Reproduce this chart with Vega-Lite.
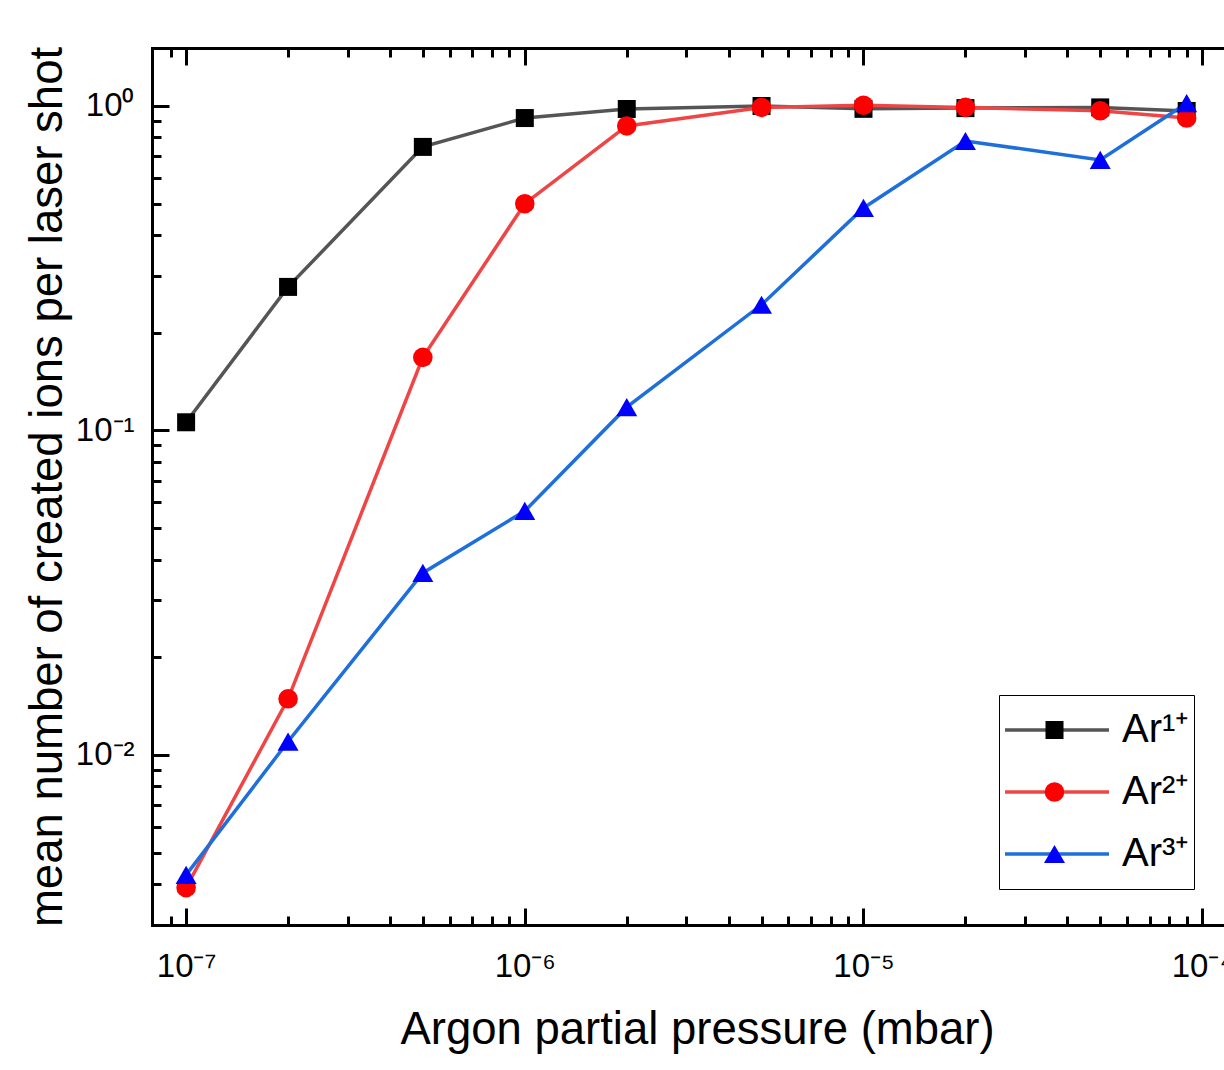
{
  "$schema": "https://vega.github.io/schema/vega-lite/v6.json",
  "autosize": {"type": "none"},
  "padding": {"left": 152, "top": 48, "right": 0, "bottom": 145},
  "width": 1072,
  "height": 877,
  "background": "white",
  "config": {
    "view": {"stroke": null},
    "font": "Liberation Sans",
    "axis": {"grid": false, "ticks": true, "tickWidth": 3, "tickColor": "black", "domainWidth": 3, "domainColor": "black", "domainCap": "square", "labelFlush": false, "labelOverlap": false}
  },
  "data": {"values": [
    {"series": "Ar1+", "ion": "Ar¹⁺", "pressure": 1e-7, "ions": 0.106},
    {"series": "Ar1+", "ion": "Ar¹⁺", "pressure": 2e-7, "ions": 0.277},
    {"series": "Ar1+", "ion": "Ar¹⁺", "pressure": 5e-7, "ions": 0.748},
    {"series": "Ar1+", "ion": "Ar¹⁺", "pressure": 1e-6, "ions": 0.918},
    {"series": "Ar1+", "ion": "Ar¹⁺", "pressure": 2e-6, "ions": 0.979},
    {"series": "Ar1+", "ion": "Ar¹⁺", "pressure": 5e-6, "ions": 1.0},
    {"series": "Ar1+", "ion": "Ar¹⁺", "pressure": 1e-5, "ions": 0.98},
    {"series": "Ar1+", "ion": "Ar¹⁺", "pressure": 2e-5, "ions": 0.985},
    {"series": "Ar1+", "ion": "Ar¹⁺", "pressure": 5e-5, "ions": 0.99},
    {"series": "Ar1+", "ion": "Ar¹⁺", "pressure": 9e-5, "ions": 0.965},
    {"series": "Ar2+", "ion": "Ar²⁺", "pressure": 1e-7, "ions": 0.0039},
    {"series": "Ar2+", "ion": "Ar²⁺", "pressure": 2e-7, "ions": 0.0149},
    {"series": "Ar2+", "ion": "Ar²⁺", "pressure": 5e-7, "ions": 0.168},
    {"series": "Ar2+", "ion": "Ar²⁺", "pressure": 1e-6, "ions": 0.50},
    {"series": "Ar2+", "ion": "Ar²⁺", "pressure": 2e-6, "ions": 0.868},
    {"series": "Ar2+", "ion": "Ar²⁺", "pressure": 5e-6, "ions": 0.99},
    {"series": "Ar2+", "ion": "Ar²⁺", "pressure": 1e-5, "ions": 1.005},
    {"series": "Ar2+", "ion": "Ar²⁺", "pressure": 2e-5, "ions": 0.99},
    {"series": "Ar2+", "ion": "Ar²⁺", "pressure": 5e-5, "ions": 0.967},
    {"series": "Ar2+", "ion": "Ar²⁺", "pressure": 9e-5, "ions": 0.918},
    {"series": "Ar3+", "ion": "Ar³⁺", "pressure": 1e-7, "ions": 0.00427},
    {"series": "Ar3+", "ion": "Ar³⁺", "pressure": 2e-7, "ions": 0.011},
    {"series": "Ar3+", "ion": "Ar³⁺", "pressure": 5e-7, "ions": 0.0364},
    {"series": "Ar3+", "ion": "Ar³⁺", "pressure": 1e-6, "ions": 0.0565},
    {"series": "Ar3+", "ion": "Ar³⁺", "pressure": 2e-6, "ions": 0.118},
    {"series": "Ar3+", "ion": "Ar³⁺", "pressure": 5e-6, "ions": 0.244},
    {"series": "Ar3+", "ion": "Ar³⁺", "pressure": 1e-5, "ions": 0.485},
    {"series": "Ar3+", "ion": "Ar³⁺", "pressure": 2e-5, "ions": 0.78},
    {"series": "Ar3+", "ion": "Ar³⁺", "pressure": 5e-5, "ions": 0.682},
    {"series": "Ar3+", "ion": "Ar³⁺", "pressure": 9e-5, "ions": 1.02}
  ]},
  "resolve": {"axis": {"x": "independent", "y": "independent"}},
  "layer": [
    {
      "mark": {"type": "line", "strokeWidth": 3.5},
      "encoding": {
        "x": {
          "field": "pressure", "type": "quantitative",
          "scale": {"type": "log", "domain": [7.93e-8, 1.16e-4], "nice": false},
          "axis": {
            "orient": "bottom",
            "title": "Argon partial pressure (mbar)",
            "values": [1e-7, 1e-6, 1e-5, 1e-4],
            "labelExpr": "'10⁻' + ['⁰','¹','²','³','⁴','⁵','⁶','⁷','⁸','⁹'][-round(log(datum.value)/LN10)]",
            "ticks": true, "tickSize": -17,
            "labelFontSize": 33, "labelColor": "black", "labelPadding": 42,
            "titleFontSize": 45.5, "titleFontWeight": "normal", "titleColor": "black", "titlePadding": 24, "titleX": 545
          }
        },
        "y": {
          "field": "ions", "type": "quantitative",
          "scale": {"type": "log", "domain": [0.002993, 1.509], "nice": false},
          "axis": {
            "orient": "left",
            "title": "mean number of created ions per laser shot",
            "values": [0.01, 0.1, 1],
            "labelExpr": "round(log(datum.value)/LN10) == 0 ? '10⁰' : '10⁻' + ['⁰','¹','²','³','⁴','⁵','⁶','⁷','⁸','⁹'][-round(log(datum.value)/LN10)]",
            "ticks": true, "tickSize": -17,
            "labelFontSize": 33, "labelColor": "black", "labelPadding": 35,
            "titleFontSize": 45.5, "titleFontWeight": "normal", "titleColor": "black", "titlePadding": 4
          }
        },
        "stroke": {
          "field": "ion", "type": "nominal",
          "scale": {"domain": ["Ar¹⁺", "Ar²⁺", "Ar³⁺"], "range": ["#555555", "#f04545", "#1e6fdc"]},
          "legend": {
            "orient": "none", "legendX": 847, "legendY": 647, "title": null,
            "symbolType": "stroke", "symbolSize": 10816, "symbolStrokeWidth": 3.5,
            "labelFontSize": 40, "labelColor": "black", "labelOffset": 11,
            "padding": 4, "strokeColor": "black", "clipHeight": 62, "rowPadding": 0
          }
        }
      }
    },
    {
      "mark": {"type": "point", "filled": true, "opacity": 1, "strokeWidth": 0},
      "encoding": {
        "x": {
          "field": "pressure", "type": "quantitative",
          "axis": {
            "orient": "top", "title": null, "labels": false,
            "values": [1e-7, 1e-6, 1e-5, 1e-4],
            "ticks": true, "tickSize": -17, "tickColor": "black", "tickWidth": 3,
            "domainWidth": 3, "domainColor": "black", "domainCap": "square"
          }
        },
        "y": {
          "field": "ions", "type": "quantitative",
          "axis": {
            "orient": "left", "title": null, "labels": false, "domain": false,
            "values": [0.004, 0.005, 0.006, 0.007, 0.008, 0.009, 0.02, 0.03, 0.04, 0.05, 0.06, 0.07, 0.08, 0.09, 0.2, 0.3, 0.4, 0.5, 0.6, 0.7, 0.8, 0.9],
            "ticks": true, "tickSize": -9
          }
        },
        "shape": {
          "field": "series", "type": "nominal",
          "scale": {"range": ["square", "circle", "triangle-up"]},
          "legend": {
            "orient": "none", "legendX": 888, "legendY": 647, "title": null,
            "labelExpr": "''", "padding": 4, "clipHeight": 62, "rowPadding": 0,
            "symbolStrokeWidth": 0, "symbolOpacity": 1
          }
        },
        "fill": {
          "field": "series", "type": "nominal",
          "scale": {"range": ["#000000", "#ff0000", "#0000ff"]},
          "legend": {
            "orient": "none", "legendX": 888, "legendY": 647, "title": null,
            "labelExpr": "''", "padding": 4, "clipHeight": 62, "rowPadding": 0,
            "symbolStrokeWidth": 0, "symbolOpacity": 1
          }
        },
        "size": {
          "field": "series", "type": "nominal",
          "scale": {"range": [324, 441, 650]},
          "legend": {
            "orient": "none", "legendX": 888, "legendY": 647, "title": null,
            "labelExpr": "''", "padding": 4, "clipHeight": 62, "rowPadding": 0,
            "symbolStrokeWidth": 0, "symbolOpacity": 1
          }
        }
      }
    },
    {
      "mark": {"type": "point", "opacity": 0},
      "encoding": {
        "x": {
          "field": "pressure", "type": "quantitative",
          "axis": {
            "orient": "bottom", "title": null, "labels": false, "domain": false,
            "values": [9e-8, 2e-7, 3e-7, 4e-7, 5e-7, 6e-7, 7e-7, 8e-7, 9e-7, 2e-6, 3e-6, 4e-6, 5e-6, 6e-6, 7e-6, 8e-6, 9e-6, 2e-5, 3e-5, 4e-5, 5e-5, 6e-5, 7e-5, 8e-5, 9e-5],
            "ticks": true, "tickSize": -9
          }
        },
        "y": {"field": "ions", "type": "quantitative", "axis": null}
      }
    },
    {
      "mark": {"type": "point", "opacity": 0},
      "encoding": {
        "x": {
          "field": "pressure", "type": "quantitative",
          "axis": {
            "orient": "top", "title": null, "labels": false, "domain": false,
            "values": [9e-8, 2e-7, 3e-7, 4e-7, 5e-7, 6e-7, 7e-7, 8e-7, 9e-7, 2e-6, 3e-6, 4e-6, 5e-6, 6e-6, 7e-6, 8e-6, 9e-6, 2e-5, 3e-5, 4e-5, 5e-5, 6e-5, 7e-5, 8e-5, 9e-5],
            "ticks": true, "tickSize": -9
          }
        },
        "y": {"field": "ions", "type": "quantitative", "axis": null}
      }
    }
  ]
}
